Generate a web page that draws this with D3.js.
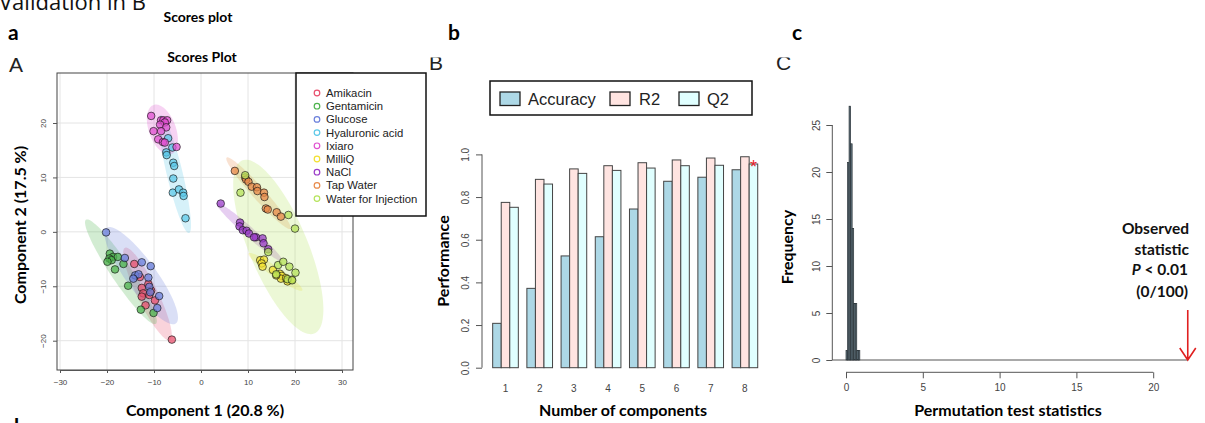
<!DOCTYPE html>
<html>
<head>
<meta charset="utf-8">
<script src="https://cdn.jsdelivr.net/npm/d3@7"></script>
<style>
  body { margin: 0; background: #fff; }
  svg { display: block; }
  .tick text { fill: #444; font-family: "Liberation Sans", Arial, sans-serif; }
</style>
</head>
<body>
<svg width="1205" height="423"></svg>
<script>
// ---- panel a: PLS-DA scores, one array per group [component1, component2]
const amikacin = [[-14.2,-5.9],[-13.0,-8.3],[-12.6,-10.3],[-11.2,-9.6],[-12.3,-11.3],[-12.6,-11.9],[-11.0,-11.6],[-9.8,-12.6],[-11.8,-13.5],[-6.2,-19.8],[-10.6,-10.8]];
const gentamicin = [[-19.4,-4.0],[-18.7,-4.6],[-19.5,-4.9],[-19.0,-5.2],[-17.7,-4.6],[-16.5,-5.9],[-18.3,-6.9],[-15.5,-9.9],[-12.8,-14.3],[-10.1,-14.9],[-19.9,-5.5]];
const glucose = [[-20.2,-0.1],[-16.2,-4.8],[-12.6,-5.6],[-10.7,-6.3],[-14.0,-8.0],[-13.3,-7.8],[-14.4,-8.6],[-11.2,-8.4],[-11.0,-10.1],[-10.8,-11.1],[-8.9,-11.8],[-9.3,-14.0]];
const hyaluronic = [[-7.0,17.2],[-6.1,15.5],[-7.4,14.6],[-7.3,14.1],[-5.9,12.7],[-5.7,12.1],[-5.9,9.8],[-6.0,7.2],[-4.7,7.8],[-3.8,7.2],[-3.7,6.6],[-3.3,2.5]];
const ixiaro = [[-10.6,21.3],[-8.5,20.5],[-8.0,20.5],[-7.2,20.5],[-7.7,20.1],[-8.7,19.7],[-7.4,19.2],[-10.1,18.5],[-8.5,18.5],[-9.1,17.0],[-8.1,16.5],[-7.7,16.4],[-5.2,15.6]];
const milliq = [[12.6,-5.2],[13.4,-5.1],[12.9,-5.8],[13.1,-6.4],[15.3,-7.0],[16.8,-7.7],[17.2,-8.1],[17.0,-8.6],[18.1,-8.5],[18.4,-9.1],[19.3,-8.8],[16.0,-8.0]];
const nacl = [[4.2,5.2],[8.3,1.7],[8.2,1.0],[8.9,0.3],[9.7,0.2],[10.2,-0.3],[11.7,-1.0],[13.1,-1.2],[13.3,-2.1],[14.3,-3.2],[11.3,-1.0]];
const tapWater = [[7.2,11.2],[9.4,10.0],[9.6,9.6],[10.1,9.2],[10.8,8.3],[11.9,8.2],[12.0,7.5],[13.4,7.2],[13.5,6.4],[13.8,4.3],[14.2,4.1],[16.1,3.6],[17.0,2.8]];
const waterInjection = [[9.4,10.4],[8.4,7.2],[18.6,3.1],[20.0,0.6],[14.3,-3.7],[16.4,-6.1],[17.5,-5.5],[18.8,-6.4],[20.1,-7.5],[18.4,-8.7],[16.0,-7.8],[19.4,-8.9]];

const groupNames = ["Amikacin","Gentamicin","Glucose","Hyaluronic acid","Ixiaro","MilliQ","NaCl","Tap Water","Water for Injection"];
const groupScores = [amikacin, gentamicin, glucose, hyaluronic, ixiaro, milliq, nacl, tapWater, waterInjection];
const groupColors = ["#e8506e","#4db34d","#6a7fdb","#5bc8e8","#e050d0","#f2e030","#9a3cc8","#e88a4a","#b5e35a"];
const scoreTicks = [-30,-20,-10,0,10,20,30];
const scoreTicksY = [-20,-10,0,10,20];

// ---- panel b: cross validation
const components = [1,2,3,4,5,6,7,8];
const accuracy = [0.208,0.372,0.524,0.614,0.744,0.874,0.893,0.928];
const r2 = [0.775,0.883,0.932,0.947,0.961,0.974,0.983,0.989];
const q2 = [0.752,0.861,0.911,0.925,0.936,0.947,0.949,0.955];
const perfSeries = ["Accuracy","R2","Q2"];
const perfColors = ["#add8e6","#ffe4e1","#e0ffff"];
const perfTicks = [0,0.2,0.4,0.6,0.8,1.0];

// ---- panel c: permutation test
const permBreaks = [0,0.1,0.2,0.3,0.4,0.5,0.6,0.7,0.8,0.9];
const permCounts = [1,21,27,23,14,6,6,1,1];
const observedStat = 22.25;
const freqTicks = [0,5,10,15,20,25];
const permTicks = [0,5,10,15,20];

const svg = d3.select("svg");
const bold = "Lato, 'Open Sans', sans-serif";
const plain = "'Liberation Sans', Arial, sans-serif";

// clipped panel letters / headings
svg.append("text").attr("x", -1).attr("y", 10).attr("font-family", "'Open Sans', sans-serif")
    .attr("font-size", 22).attr("fill", "#111").text("Validation in B");
svg.append("text").attr("x", 198).attr("y", 22).attr("text-anchor", "middle")
    .attr("font-family", bold).attr("font-weight", "bold").attr("font-size", 14).text("Scores plot");
[["a", 8], ["b", 448], ["c", 792]].forEach(([t, x]) => {
    svg.append("text").attr("x", x).attr("y", 40).attr("font-family", bold)
        .attr("font-weight", "bold").attr("font-size", 21).text(t);
});
svg.append("text").attr("x", 14).attr("y", 434).attr("font-family", bold)
    .attr("font-weight", "bold").attr("font-size", 21).text("b");

const defs = svg.append("defs");
defs.append("clipPath").attr("id", "clipA").append("rect")
    .attr("x", 0).attr("y", 57).attr("width", 60).attr("height", 30);
defs.append("clipPath").attr("id", "clipBC").append("rect")
    .attr("x", 400).attr("y", 57.5).attr("width", 420).attr("height", 30);
svg.append("text").attr("clip-path", "url(#clipA)").attr("x", 9).attr("y", 72)
    .attr("font-family", plain).attr("font-size", 21).attr("fill", "#222").text("A");
const letters = svg.append("g").attr("clip-path", "url(#clipBC)")
    .attr("font-family", plain).attr("font-size", 21).attr("fill", "#222");
letters.append("text").attr("x", 429).attr("y", 70).text("B");
letters.append("text").attr("x", 776).attr("y", 70).text("C");

// ================= panel a =================
const xA = d3.scaleLinear().domain([-30, 30]).range([60, 342]);
const yA = d3.scaleLinear().domain([-20, 20]).range([340.7, 123]);
const boxA = { x0: 57, x1: 353, y0: 73, y1: 370 };

const gA = svg.append("g");
gA.append("text").attr("x", 202).attr("y", 62).attr("text-anchor", "middle")
    .attr("font-family", bold).attr("font-weight", "bold").attr("font-size", 14).text("Scores Plot");

// grid
gA.selectAll(".gx").data(scoreTicks).enter().append("line")
    .attr("x1", d => xA(d)).attr("x2", d => xA(d)).attr("y1", boxA.y0).attr("y2", boxA.y1)
    .attr("stroke", "#e4e4e4");
gA.selectAll(".gy").data(scoreTicksY).enter().append("line")
    .attr("y1", d => yA(d)).attr("y2", d => yA(d)).attr("x1", boxA.x0).attr("x2", boxA.x1)
    .attr("stroke", "#e4e4e4");

const chi2 = 5.991;
const ellipseOf = (pts) => {
    const mx = d3.mean(pts, d => d[0]), my = d3.mean(pts, d => d[1]);
    let a = 0, b = 0, c = 0;
    pts.forEach(([x, y]) => { a += (x - mx) ** 2; b += (x - mx) * (y - my); c += (y - my) ** 2; });
    const n = pts.length - 1;
    a /= n; b /= n; c /= n;
    const m = (a + c) / 2, dd = Math.sqrt(((a - c) / 2) ** 2 + b * b);
    const r1 = Math.sqrt(chi2 * (m + dd)), r2 = Math.sqrt(chi2 * Math.max(m - dd, 0));
    const th = 0.5 * Math.atan2(2 * b, a - c);
    return d3.range(0, 121).map(i => {
        const t = i / 120 * 2 * Math.PI;
        const u = r1 * Math.cos(t), v = r2 * Math.sin(t);
        return [mx + u * Math.cos(th) - v * Math.sin(th), my + u * Math.sin(th) + v * Math.cos(th)];
    });
};
const ellLine = d3.line().x(d => xA(d[0])).y(d => yA(d[1]));

groupScores.forEach((pts, i) => {
    gA.append("path").attr("d", ellLine(ellipseOf(pts)))
        .attr("fill", groupColors[i]).attr("fill-opacity", 0.25).attr("stroke", "none");
});
groupScores.forEach((pts, i) => {
    gA.append("g").selectAll("circle").data(pts).enter().append("circle")
        .attr("cx", d => xA(d[0])).attr("cy", d => yA(d[1])).attr("r", 3.8)
        .attr("fill", groupColors[i]).attr("fill-opacity", 0.75)
        .attr("stroke", "#111").attr("stroke-opacity", 0.8).attr("stroke-width", 0.8);
});

gA.append("rect").attr("x", boxA.x0).attr("y", boxA.y0)
    .attr("width", boxA.x1 - boxA.x0).attr("height", boxA.y1 - boxA.y0)
    .attr("fill", "none").attr("stroke", "#444").attr("stroke-width", 1);

const axA = gA.append("g").attr("transform", `translate(0,${boxA.y1})`)
    .call(d3.axisBottom(xA).tickValues(scoreTicks).tickSize(3).tickPadding(6));
axA.select(".domain").attr("stroke", "#555");
axA.selectAll(".tick line").attr("stroke", "#555");
axA.selectAll(".tick text").attr("font-size", 8).attr("fill", "#666");

const ayA = gA.append("g").attr("transform", `translate(${boxA.x0},0)`)
    .call(d3.axisLeft(yA).tickValues(scoreTicksY).tickSize(4));
ayA.select(".domain").remove();
ayA.selectAll(".tick line").attr("stroke", "#555");
ayA.selectAll(".tick text").attr("font-size", 8).attr("fill", "#666").attr("transform", "rotate(-90)")
    .attr("x", 0).attr("y", -11).attr("dy", 0).attr("text-anchor", "middle");

gA.append("text").attr("x", 205).attr("y", 416).attr("text-anchor", "middle")
    .attr("font-family", bold).attr("font-weight", "bold").attr("font-size", 16).text("Component 1 (20.8 %)");
gA.append("text").attr("transform", "translate(26,225) rotate(-90)").attr("text-anchor", "middle")
    .attr("font-family", bold).attr("font-weight", "bold").attr("font-size", 16).text("Component 2 (17.5 %)");

// legend a
const legA = gA.append("g");
legA.append("rect").attr("x", 296).attr("y", 73).attr("width", 130).attr("height", 143)
    .attr("fill", "#fff").attr("stroke", "#111").attr("stroke-width", 1.5);
groupNames.forEach((nm, i) => {
    const cy = 93 + i * 13.2;
    legA.append("circle").attr("cx", 317).attr("cy", cy).attr("r", 2.8)
        .attr("fill", "none").attr("stroke", groupColors[i]).attr("stroke-width", 1.2);
    legA.append("text").attr("x", 326).attr("y", cy + 4).attr("font-family", plain)
        .attr("font-size", 11.3).attr("fill", "#222").text(nm);
});

// ================= panel b =================
const xB = d3.scaleBand().domain(components).range([488.4, 762.0]).paddingInner(0.25).paddingOuter(0.125);
const xBin = d3.scaleBand().domain(perfSeries).range([0, xB.bandwidth()]);
const yB = d3.scaleLinear().domain([0, 1]).range([367.7, 154.4]);
const gB = svg.append("g");
const perfRows = components.map((c, i) => ({ c, vals: [accuracy[i], r2[i], q2[i]] }));

gB.selectAll(".grp").data(perfRows).enter().append("g")
    .attr("transform", d => `translate(${xB(d.c)},0)`)
    .selectAll("rect").data(d => d.vals.map((v, k) => ({ k, v }))).enter().append("rect")
    .attr("x", d => xBin(perfSeries[d.k])).attr("width", xBin.bandwidth())
    .attr("y", d => yB(d.v)).attr("height", d => yB(0) - yB(d.v))
    .attr("fill", d => perfColors[d.k]).attr("stroke", "#444").attr("stroke-width", 1);

gB.append("text").attr("x", xB(8) + xBin("Q2") + xBin.bandwidth() / 2)
    .attr("y", yB(q2[7]) + 9).attr("text-anchor", "middle")
    .attr("font-family", plain).attr("font-size", 18).attr("fill", "#e8202a").text("*");

const ayB = gB.append("g").attr("transform", "translate(482,0)")
    .call(d3.axisLeft(yB).tickValues(perfTicks).tickFormat(d3.format(".1f")).tickSize(6));
ayB.select(".domain").attr("stroke", "#555").attr("d", `M0,${yB(0)}V${yB(1)}`);
ayB.selectAll(".tick line").attr("stroke", "#555");
ayB.selectAll(".tick text").attr("font-size", 10).attr("transform", "rotate(-90)")
    .attr("x", 0).attr("y", -13).attr("dy", 0).attr("text-anchor", "middle");

gB.selectAll(".xl").data(components).enter().append("text")
    .attr("x", d => xB(d) + xB.bandwidth() / 2).attr("y", 392).attr("text-anchor", "middle")
    .attr("font-family", plain).attr("font-size", 10).attr("fill", "#444").text(d => d);

gB.append("text").attr("x", 623).attr("y", 416).attr("text-anchor", "middle")
    .attr("font-family", bold).attr("font-weight", "bold").attr("font-size", 16).text("Number of components");
gB.append("text").attr("transform", "translate(449,261) rotate(-90)").attr("text-anchor", "middle")
    .attr("font-family", bold).attr("font-weight", "bold").attr("font-size", 16).text("Performance");

// legend b
const legB = gB.append("g");
legB.append("rect").attr("x", 490).attr("y", 81).attr("width", 262).attr("height", 34)
    .attr("fill", "#fff").attr("stroke", "#111").attr("stroke-width", 1.5);
[[500, 528], [610, 639], [679, 707]].forEach(([sx, tx], k) => {
    legB.append("rect").attr("x", sx).attr("y", 92).attr("width", 20).attr("height", 13.5)
        .attr("fill", perfColors[k]).attr("stroke", "#222").attr("stroke-width", 1.3);
    legB.append("text").attr("x", tx).attr("y", 104.5).attr("font-family", plain)
        .attr("font-size", 16.5).attr("fill", "#222").text(perfSeries[k]);
});

// ================= panel c =================
const xC = d3.scaleLinear().domain([0, 20]).range([846, 1153.2]);
const yC = d3.scaleLinear().domain([0, 25]).range([360, 125]);
const gC = svg.append("g");
const permBins = permCounts.map((n, i) => ({ x0: permBreaks[i], x1: permBreaks[i + 1], n }));

gC.append("line").attr("x1", xC(-0.9)).attr("x2", xC(observedStat)).attr("y1", yC(0)).attr("y2", yC(0))
    .attr("stroke", "#555").attr("stroke-width", 1);
gC.selectAll(".bin").data(permBins).enter().append("rect")
    .attr("x", d => xC(d.x0)).attr("width", d => xC(d.x1) - xC(d.x0))
    .attr("y", d => yC(d.n)).attr("height", d => yC(0) - yC(d.n))
    .attr("fill", "#5f707a").attr("stroke", "#2a3338").attr("stroke-width", 0.7);

const ayC = gC.append("g").attr("transform", "translate(832.3,0)")
    .call(d3.axisLeft(yC).tickValues(freqTicks).tickSize(6));
ayC.select(".domain").attr("stroke", "#555").attr("d", `M0,${yC(0)}V${yC(25)}`);
ayC.selectAll(".tick line").attr("stroke", "#555");
ayC.selectAll(".tick text").attr("font-size", 10).attr("transform", "rotate(-90)")
    .attr("x", 0).attr("y", -12).attr("dy", 0).attr("text-anchor", "middle");

const axC = gC.append("g").attr("transform", "translate(0,372.3)")
    .call(d3.axisBottom(xC).tickValues(permTicks).tickSize(6).tickPadding(6));
axC.select(".domain").attr("stroke", "#555").attr("d", `M${xC(0)},0H${xC(20)}`);
axC.selectAll(".tick line").attr("stroke", "#555");
axC.selectAll(".tick text").attr("font-size", 10);

// observed statistic arrow
const ax = xC(observedStat);
gC.append("path").attr("d", `M${ax},310V${yC(0)}M${ax - 8},348L${ax},${yC(0)}L${ax + 8},348`)
    .attr("fill", "none").attr("stroke", "#e02020").attr("stroke-width", 1.6);

const obs = gC.append("g").attr("font-family", bold).attr("font-weight", "bold")
    .attr("font-size", 15.5).attr("text-anchor", "end").attr("fill", "#111");
obs.append("text").attr("x", 1189).attr("y", 234).text("Observed");
obs.append("text").attr("x", 1189).attr("y", 254.5).text("statistic");
const pt = obs.append("text").attr("x", 1188).attr("y", 275);
pt.append("tspan").attr("font-style", "italic").text("P");
pt.append("tspan").text(" < 0.01");
obs.append("text").attr("x", 1188).attr("y", 296.5).text("(0/100)");

gC.append("text").attr("x", 1008).attr("y", 416).attr("text-anchor", "middle")
    .attr("font-family", bold).attr("font-weight", "bold").attr("font-size", 16).text("Permutation test statistics");
gC.append("text").attr("transform", "translate(793,247) rotate(-90)").attr("text-anchor", "middle")
    .attr("font-family", bold).attr("font-weight", "bold").attr("font-size", 16).text("Frequency");
</script>
</body>
</html>
